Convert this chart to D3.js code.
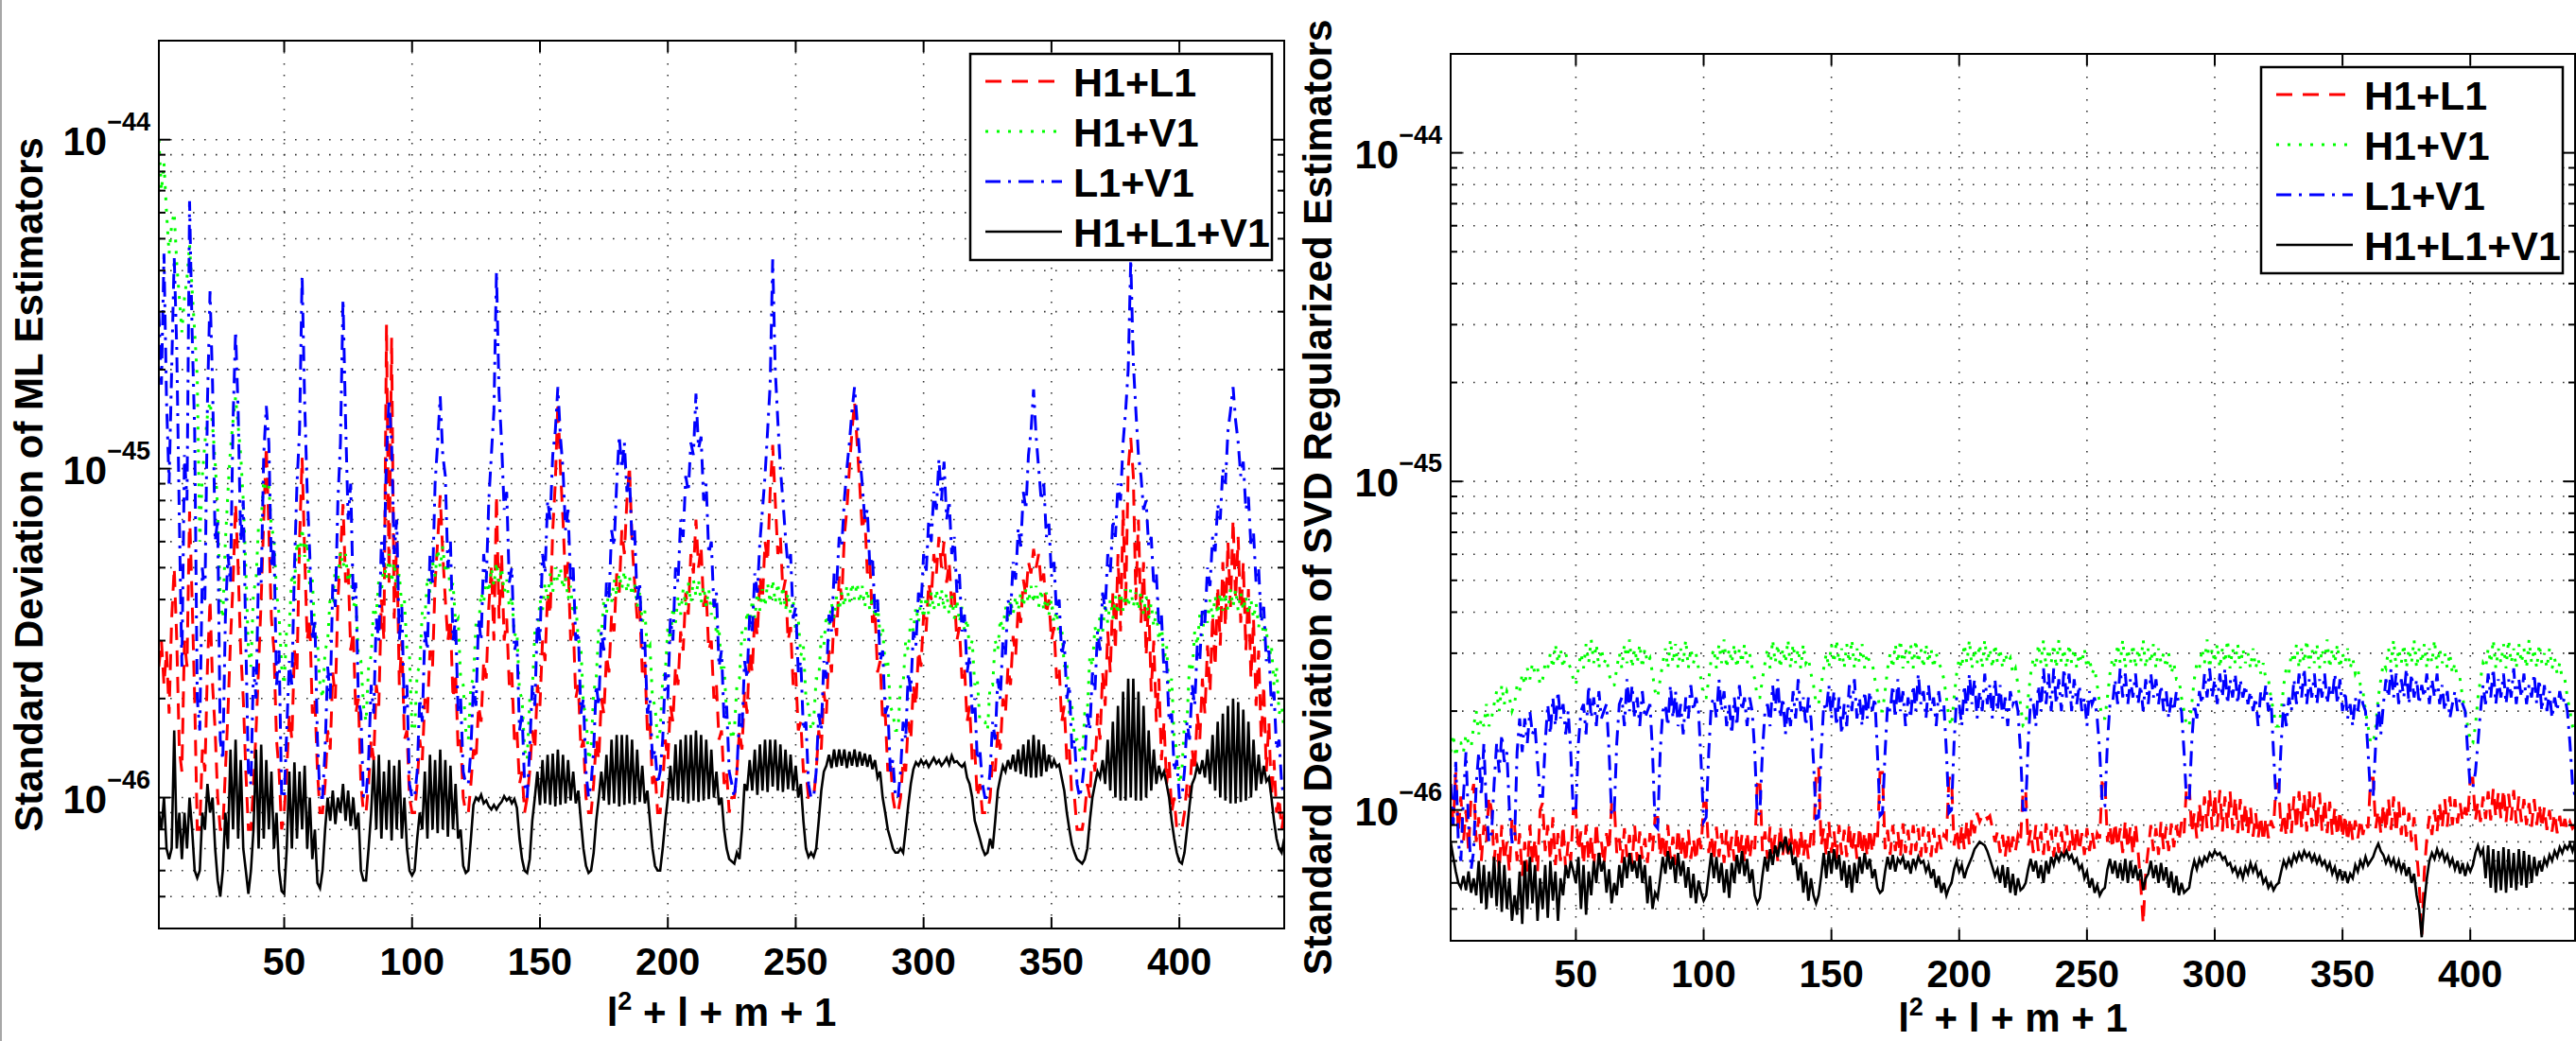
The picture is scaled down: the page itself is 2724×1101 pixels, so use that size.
<!DOCTYPE html>
<html><head><meta charset="utf-8">
<script src="https://cdn.jsdelivr.net/npm/d3@7"></script>
<style>
body{margin:0;background:#fff;}
svg{display:block;}
text{font-family:"Liberation Sans",Arial,Helvetica,sans-serif;font-weight:bold;fill:#000;}
</style>
</head><body>
<svg id="chart" width="2724" height="1101"></svg>
<script>
// ---------------- DATA (values in units of 1e-47) ----------------
const UNIT = 1e-47;
const indexCount = 441;                 // x = l^2 + l + m + 1, l = 0..20
const xTickValues = [50, 100, 150, 200, 250, 300, 350, 400];
const yMajorExponents = [-46, -45, -44];
const seriesNames = ["H1+L1", "H1+V1", "L1+V1", "H1+L1+V1"];
const seriesColors = ["#ff0000", "#00ff00", "#0000ff", "#000000"];
const panelYLabels = ["Standard Deviation of ML Estimators", "Standard Deviation of SVD Regularized Estimators"];

// ---- ML estimators ----
const mlH1L1 = [
25,
30,22,28,
18,35,50,30,14,
12,30,25,74,40,20,8,
8,14,12,25,40,22,16,10,8,
8,12,18,30,45,78,50,28,20,12,8,
8,11,16,25,40,70,117,65,35,28,15,12,8,
9,12,18,15,28,24,60,108,55,30,35,18,20,12,9,
9,11,16,14,24,20,40,55,78,45,50,28,32,18,20,11,9,
9,11,15,13,22,19,40,30,274,45,250,35,60,22,30,15,16,10,9,
9,11,15,13,20,18,28,25,45,60,83,55,40,30,35,20,24,14,15,10,9,
9,11,14,13,19,17,26,23,38,50,30,83,35,55,30,35,22,24,15,16,11,12,9,
10,12,16,14,22,19,30,26,42,36,65,90,160,100,70,45,52,30,34,20,22,14,15,10,9,
9,11,15,13,20,18,27,24,36,32,48,42,65,55,80,102,60,45,35,38,24,26,16,17,11,12,9,
9,11,15,13,19,17,25,22,32,28,42,36,55,48,70,50,58,38,42,28,30,20,22,15,16,11,12,9,10,
10,12,16,14,21,18,28,24,36,31,47,40,60,52,85,118,80,55,62,42,46,30,33,22,24,16,17,12,12,10,10,
10,12,16,14,21,18,28,24,36,31,47,40,62,75,100,130,160,120,90,65,72,48,52,34,37,24,26,17,18,12,13,10,9,
9,10,13,12,17,15,22,19,28,25,36,32,45,40,55,48,62,50,60,45,52,38,42,30,33,23,25,17,19,13,14,10,11,9,9,
9,10,13,12,16,14,20,18,25,22,31,27,38,34,46,41,52,48,57,50,55,44,48,36,40,30,33,23,25,17,19,13,14,10,10,8,8,
8,9,11,10,14,12,18,15,24,19,32,24,42,28,55,32,75,38,100,124,95,40,70,34,52,27,40,21,30,17,23,13,17,11,13,9,10,8,8,
8,9,11,10,14,12,18,15,23,18,29,21,36,25,44,29,52,33,60,38,70,40,62,34,52,28,43,23,35,19,28,15,22,12,17,10,13,9,10,8,9
];
const mlH1V1 = [
1000,
700,850,600,
450,550,600,420,330,
260,330,380,480,350,260,190,
60,95,120,145,160,135,105,75,40,
35,60,85,115,140,165,135,110,80,50,28,
25,42,46,68,70,92,85,88,66,62,42,36,25,
22,33,33,48,44,60,54,66,54,60,44,46,32,30,22,
20,28,30,41,40,50,46,56,50,55,45,49,38,40,27,26,19,
17,25,27,38,36,46,42,52,46,55,45,52,43,48,38,40,28,27,16,
16,24,25,37,35,47,42,52,47,57,50,58,48,52,42,45,34,35,23,22,16,
15,22,23,34,33,42,39,47,42,50,44,52,45,50,42,46,38,41,31,32,21,20,14,
13,20,21,32,31,40,37,45,40,48,42,50,45,50,43,47,40,44,36,39,30,29,19,18,13,
14,21,23,33,31,40,36,44,39,46,41,48,43,49,42,47,41,45,38,42,34,37,28,29,20,19,15,
16,23,24,33,30,38,34,41,36,43,38,45,39,46,41,46,39,44,38,43,36,40,31,33,24,25,18,17,15,
16,22,23,32,30,37,33,40,35,42,37,43,38,45,39,46,39,45,38,44,37,42,36,40,32,35,27,29,20,19,16,
17,23,23,31,29,36,33,39,35,41,37,42,38,44,39,45,40,45,39,44,38,43,37,41,35,39,31,33,25,26,19,18,16,
16,22,22,30,28,35,32,38,34,40,35,41,36,42,37,43,38,43,37,42,36,41,35,40,34,38,32,35,28,30,22,23,17,17,17,
16,22,22,30,28,35,32,38,34,40,36,41,37,42,38,43,39,44,39,44,38,43,37,42,36,40,34,37,31,33,25,26,18,19,15,15,14,
13,18,18,27,25,33,30,36,32,39,34,40,35,41,36,42,37,43,38,43,38,42,37,42,36,41,35,39,33,37,30,34,26,29,21,23,15,14,11,
12,17,17,26,24,32,29,36,31,38,34,40,35,41,36,42,37,42,37,43,38,43,37,42,37,41,36,40,35,39,33,37,30,33,26,29,22,25,18,19,16
];
const mlL1V1 = [
300,
180,450,160,
90,200,440,230,70,
25,110,80,650,260,130,20,
16,50,40,160,346,180,60,70,15,
13,35,55,45,140,262,150,60,80,30,12,
11,25,20,50,45,110,155,120,50,60,22,28,10,
10,16,26,22,50,90,130,388,160,85,55,30,35,15,10,
10,14,25,20,45,38,80,120,327,140,70,90,40,45,20,18,10,
10,13,22,18,35,30,60,50,110,163,120,55,70,30,38,18,22,11,10,
10,12,20,17,32,28,55,45,90,120,166,110,95,50,60,30,35,18,20,12,11,
11,14,22,19,35,30,55,45,80,110,150,398,170,120,75,85,45,50,28,30,16,18,11,
10,14,22,19,35,30,55,48,80,70,110,130,177,125,100,65,75,45,50,30,32,18,20,12,10,
11,14,22,19,32,28,45,40,65,58,90,126,100,120,85,95,60,65,40,45,28,30,18,20,13,14,11,
12,15,24,20,35,30,50,45,70,62,95,85,120,110,169,115,125,80,90,55,60,38,42,25,28,17,19,12,11,
10,12,18,16,26,23,36,32,48,42,60,75,95,130,180,433,200,140,100,80,62,50,55,35,38,24,26,16,17,11,10,
10,12,18,16,26,23,36,32,48,44,62,58,80,100,120,150,177,140,110,90,70,75,50,54,36,40,26,28,18,19,12,13,10,
10,12,17,15,24,21,32,29,42,38,55,48,70,60,85,75,107,80,105,70,80,55,62,42,48,32,36,24,27,18,20,13,14,11,10,
10,12,17,15,23,20,30,27,40,36,52,46,66,58,85,75,110,130,174,125,100,80,90,62,68,47,52,36,40,27,30,20,22,14,15,11,10,
11,13,18,16,24,21,32,28,42,37,55,48,70,62,90,80,120,150,200,433,210,150,110,95,75,80,58,62,44,48,33,36,24,26,17,18,12,13,10,
10,12,17,15,22,19,29,26,38,34,50,44,62,56,78,70,100,90,130,150,177,140,120,95,105,75,82,58,64,45,50,34,38,26,28,19,21,14,15,11,10
];
const mlH1L1V1 = [
9,
8,10,7,
6.5,7,16,7,9,
6.5,9,7,10,8,6,5.7,
6,9,8,11,9,10,7,5.6,5,
6,9,7,14,8,15,7.5,13,7,6,5.1,
6,8,14,7,14.5,7.5,13,8,12,7,9,6,5.2,
5.1,7,12,7,12.8,7.5,12,8,12.5,7,10,6.5,8,5.5,5.3,
6,8,10,8.5,10.5,8.3,10,9,11,8.5,10.5,8.2,10,8,9,6,5.6,
5.6,7,9,13,8,13.5,7.5,12,8,13,7.4,12.5,8,13,7.5,10,7,6,5.8,
6,7.5,9,8,12,7.5,13.5,8,13,7.8,14,8,13,7.6,12.5,8,11,7.5,8,6.2,5.9,
6,7.5,9.5,10,9.8,10.2,9.6,9.8,9.4,9.2,9.5,9.2,9.5,9.7,10.1,9.8,10,9.6,9.9,9.3,7.5,6.5,6,
5.9,6.5,8.5,10,12,9.5,13,9.6,13.5,9.5,13.6,9.4,14,9.5,13.5,9.6,13,9.8,12,9.6,10.5,8.5,7,6.2,5.9,
6,6.8,8.5,10,12,9.8,13.5,9.5,15,9.6,15.5,9.4,15.5,9.5,15.5,9.6,15,9.5,14,9.7,12.5,9.6,10.5,8.5,7,6.2,6,
6,7,8.5,10,12.5,9.8,14.5,9.8,15,9.7,15.5,9.6,15.5,9.8,16,9.7,15.5,9.8,15,9.9,14,10,12,9.5,10,8,7,6.5,6.4,
6.3,6.8,6.5,8,11,10.5,13,10.5,14,10.2,14.5,10.5,15,10.4,15,10.8,15,10.5,14.5,10.4,14,10.6,13.5,10.5,12.5,10,11,8.5,7,6.6,6.8,
6.6,7,8.5,10.5,12,12.5,13.5,12.3,14,12.4,14,12.5,14,12.3,13.8,12.5,14,12.4,13.8,12.5,13.6,12.4,13.5,12.2,13,11.5,12,10,9,8,7.5,7,6.8,
6.8,7,6.8,8,9.5,11,12.2,12.8,12.5,13,12.6,12.9,12.4,12.8,13.2,12.7,13,12.5,12.8,13.2,12.6,13.4,12.8,12.9,12.6,12.4,12.7,11.5,11,10,8.5,8,7.5,7,6.7,
6.8,7.5,7,8.5,10.5,11.5,12.5,12,13,12.2,13.5,12,14,11.8,14.5,11.6,15,11.5,15.5,11.5,15,11.6,14.5,12,13.5,12.3,13,12.4,12.6,11.5,10.5,9,8,7.2,6.8,6.5,6.4,
6.3,6.5,7,8.5,10,11,12,11.5,13,11,15,10.5,17,10,19,9.8,21,9.8,23,10,23,9.8,21,9.8,19,10,16,10.5,14,11,12.5,11.5,12,11,10,8.5,7.5,6.8,6.4,
6.3,6.8,8,9.5,11,11.5,12.5,11.8,13,11.5,14,11,15.5,10.5,17,10,18,9.8,19,9.6,20,9.6,19.5,9.7,18.5,9.8,17,10,15,10.5,13.5,11,12.5,11.2,11.5,10,8.5,7.5,7,6.8,7.5
];

// ---- SVD regularized estimators ----
const svdH1L1 = [
12,
9,13,8.5,
11,8,10,7.5,11,
12,8,9.5,7,9,8,11,
10,7,8.5,6.5,9,7,8,6.5,9.5,
9,7,8.5,6.3,8,6.5,9,6.8,8.2,6.5,10,
10.5,7.5,9,7,9.5,6.8,8.5,7,9,6.6,8,7,10,
10,7.5,8.6,6.8,9,7,8.4,6.6,9.2,7,8,6.8,8.5,7.5,10.5,
10.5,7.4,8.2,6.9,8.8,7.2,8.4,6.8,9,7,8.6,7.1,8.2,6.9,8.5,7.5,9.5,
9.5,7.2,8.5,7,9,7.1,8.3,6.8,8.8,7.2,8.4,6.9,8.7,7.1,8.2,7,8.5,7.6,10.5,
10.5,7.4,8.4,7,8.9,7.2,8.5,6.9,8.7,7.1,8.3,7,8.8,7.2,8.4,6.9,8.6,7.1,8.2,7.6,12,
12.5,7.5,8.6,7.1,8.9,7.2,8.4,7,9,7.3,8.5,7.1,8.8,7.3,8.4,7,8.7,7.2,8.3,7.1,8.5,7.8,13,
13.5,7.8,8.8,7.2,9.2,7.4,8.6,7.1,9,7.3,8.7,7.2,9.1,7.4,8.5,7.1,8.9,7.3,8.6,7.2,8.8,7.4,8.5,8,13,
13,7.6,8.7,7.3,9,7.5,8.6,7.2,9.1,7.4,8.7,7.3,9,7.5,8.8,7.2,8.9,7.4,8.6,7.2,8.8,7.4,8.5,7.6,8.4,8.2,12.5,
12.5,7.8,8.8,7.5,9,7.6,9.3,7.8,9.5,8.5,9.8,9.2,9.6,9.8,9.4,9.6,8.8,8,8.6,7.4,8.4,7.2,8.5,7.3,8.3,7.5,8.4,8,11.5,
11.5,7.8,8.7,7.4,9,7.5,8.6,7.3,9.1,7.5,8.7,7.2,8.9,7.4,8.6,7.3,9,7.5,8.7,7.4,8.9,7.5,8.5,7.3,8.8,7.5,8.6,7.6,8.5,8.2,12.5,
12.5,8,9,7.6,9.2,7.7,8.8,7.4,9.3,7.6,8.9,7.3,9.1,7.5,6,4.5,6.5,7.6,9,7.5,8.8,7.3,9.2,7.6,8.9,7.5,9.1,7.7,9,8,9.2,8.5,12,
12,8.5,9.8,8.2,10.5,8.6,11,8.8,11.5,8.7,11.2,8.9,11.5,8.6,11,8.8,11.4,8.7,11,8.5,10.8,8.6,10.5,8.4,10.2,8.3,9.8,8.2,9.6,8,9.5,8.2,9.3,8.8,12,
12,8.6,9.8,8.3,10.5,8.5,11,8.7,11.4,8.8,11.2,8.6,11.5,8.9,11,8.7,11.3,8.6,10.8,8.5,10.6,8.4,10.2,8.3,10,8.2,9.7,8,9.5,8.1,9.3,8.2,9.4,8.4,9.2,8.8,12.5,
12.5,8.8,10,8.5,10.4,8.6,10.8,8.7,11,8.5,10.6,8.4,10.2,8.3,9.8,8,9.5,7.5,6,4.1,6.5,8.2,9.6,8.4,10,8.6,10.4,8.8,10.8,8.9,11,9,10.8,9.1,10.5,9.2,10.2,9.4,12.5,
12.5,9.3,10.6,9.2,11,9.4,11.4,9.3,11.6,9.5,11.3,9.4,11.6,9.2,11.2,9.3,11.5,9.1,11,9.2,10.8,9,10.5,8.9,10.8,9,10.4,8.8,10.2,8.7,10,8.6,9.8,8.5,9.6,8.6,9.4,8.7,9.2,8.8,9
];
const svdH1V1 = [
15,
17,14.5,16,
16,15,17,16,15.5,
18,20,17,19,18,21,18,
19,21,23,20,24,21,23,22,20,
21,24,23,26,24,27,25,28,26,27,24,
25,28,27,30,27,32,28,31,27,30,28,27,25,
24,27,30,27,32,28,33,28,32,27,31,28,29,26,24,
24,27,30,27,32,28,33,27,31,28,32,27,31,28,29,26,23,
22,25,28,31,27,33,28,32,27,31,28,33,27,31,28,30,27,25,22,
22,25,29,31,27,32,28,33,27,31,28,32,27,31,28,32,28,30,27,25,22,
22,25,28,31,27,33,28,32,27,31,28,33,27,32,28,31,27,32,28,29,26,24,21,
21,24,27,30,27,32,28,33,28,31,27,32,28,33,27,31,28,32,27,30,28,28,25,23,20,
20,23,27,30,27,32,28,33,27,31,28,32,27,33,28,31,27,32,28,31,27,30,28,27,25,22,19,
18,22,26,29,27,32,28,33,27,31,28,32,27,33,28,31,27,32,28,31,27,30,28,29,26,27,24,21,18,
18,22,26,29,27,32,28,33,27,31,28,32,27,33,28,31,27,32,28,31,27,30,28,31,27,29,26,27,24,21,19,
19,22,26,29,27,32,28,33,27,31,28,32,27,31,28,33,27,31,28,32,27,31,28,30,27,30,26,28,25,25,22,20,18,
18,21,25,28,27,31,28,33,27,31,28,32,27,31,28,33,27,31,28,32,27,31,28,30,27,31,27,29,26,28,25,25,22,20,18,
18,20,24,27,26,30,28,32,27,31,28,33,27,31,28,32,27,31,28,33,27,31,28,32,27,30,28,31,27,29,26,27,24,23,20,18,16,
16,18,22,25,28,27,31,28,33,27,31,28,32,27,31,28,33,27,31,28,32,27,31,28,33,27,31,28,30,27,30,26,28,25,25,22,20,18,16,
16,18,22,25,28,27,31,28,33,27,31,28,32,27,33,28,31,27,32,28,31,27,33,28,31,27,32,28,30,27,31,27,29,26,28,25,25,22,20,18,17
];
const svdL1V1 = [
12,
9,14,8,
7,11,15,9,6.6,
7.5,12,15,11,16,10,8,
8.5,12,16,13,17,14,15,10,8,
8,15,19,15,19,16,20,17,18,14,11,
11,16,21,17,22,18,23,19,21,17,20,15,9.8,
10,16,20,21,17,24,19,22,18,23,19,20,21,15,9.6,
9.8,16,21,22,18,25,20,24,19,22,18,23,19,20,21,15,9,
8.8,15,20,21,18,24,19,23,18,21,17,22,19,24,20,22,20,14,9.2,
9.5,15,21,22,19,25,20,23,18,21,17,22,18,24,20,22,18,22,20,15,9.6,
9.8,15,20,21,18,24,20,25,19,22,17,21,18,23,19,25,20,22,18,22,19,14,9.4,
9.5,15,21,20,24,19,23,18,22,17,21,18,24,20,25,19,22,18,23,19,23,20,22,15,9.6,
9.8,15,21,20,24,19,25,20,23,18,22,19,24,20,26,21,23,19,24,20,22,18,23,20,21,15,9.8,
10,16,22,21,18,24,20,26,21,25,19,23,20,26,21,24,19,25,20,24,19,22,18,23,21,22,20,15,10,
10,16,22,21,18,24,20,27,21,26,20,27,21,25,20,27,22,26,20,25,21,24,20,22,18,23,21,22,19,15,10.3,
10.3,16,21,21,25,21,27,22,26,21,25,22,26,21,24,20,25,21,26,22,25,21,24,20,23,19,22,20,23,21,20,15,10.6,
10.6,16,21,19,23,21,26,22,27,22,25,21,26,22,27,21,25,22,26,21,25,22,24,21,23,20,22,18,23,21,24,20,22,15,10.8,
10.8,16,21,18,22,20,25,21,26,22,27,21,25,22,26,21,25,22,26,21,24,22,26,21,25,20,23,19,21,18,22,20,23,21,20,15,11,
11,16,21,17,21,25,22,27,22,26,21,25,22,27,21,26,22,25,21,24,22,26,21,25,22,26,21,24,20,23,19,21,23,20,22,21,20,15,11.7,
11.7,13,16,20,24,21,26,22,27,21,25,22,26,21,25,22,27,21,25,22,26,21,24,22,26,21,25,20,24,20,23,19,22,20,23,21,22,20,16,12,11
];
const svdH1L1V1 = [
8,
7.2,6.5,6,
5.8,6.3,5.7,6.5,5.6,
6.2,5.5,7,5.2,6.8,5,6.5,
5.4,7.2,5.1,7,4.9,6.8,5,6.2,4.6,
5.5,4.8,6.5,4.5,7,5,7.2,5.2,6.8,4.6,6.2,
5,6.8,4.7,7,5.3,6.5,4.6,6.2,5.5,6.8,6.2,7,6.5,
6,7.2,5,6.8,4.8,6.5,5.5,7,6,7.4,6.5,7,5.6,6.6,5.2,
6,5.5,6.8,5.8,7.2,6.2,7.4,6.5,7,6.2,7.3,6,6.8,5.2,6.3,5,5.6,
5.4,6.2,7.2,6.4,7.5,6.6,7.2,6,7.4,6.3,7,5.8,6.7,5.4,6.4,5.2,6.1,5.6,5.3,
5.5,6.4,7.4,6.2,7.2,6,6.9,5.6,6.6,5.4,6.9,6,7.3,6.4,7.5,6.3,7.1,6,6.6,5.5,5.2,
5.4,6.3,7.2,6.5,7.6,6.8,7.8,7.2,8,7.6,8.3,7.5,7.8,6.8,7.2,6.1,6.9,5.6,6.5,5.3,6.2,5.5,5.2,
5.5,6.3,7.4,6.2,7.5,6.4,7.6,6.6,7.3,6.1,7,5.8,6.8,5.6,6.9,6,7.2,6.4,7.4,6.6,7.1,6.2,6.6,5.8,5.6,
5.7,6.5,7.2,6.6,7.3,6.5,7.1,6.9,7.2,6.6,7,6.4,7.1,6.7,7.2,6.9,7,6.5,6.8,6.2,6.6,5.8,6.3,5.6,6,5.5,5.8,
6,6.6,7,6.5,6.8,6.2,6.6,6.9,7.2,7.6,7.8,8,7.9,7.8,7.5,7.1,6.7,6.3,6.6,6,6.8,5.8,6.7,5.6,6.4,5.5,6.2,5.7,5.8,
6,6.6,7.1,6.5,7,6.2,6.8,6,7,6.4,7.2,6.8,7.3,7,7.4,7.2,7.5,7.1,7.3,6.9,7.1,6.6,6.8,6.2,6.5,5.8,6.2,5.6,5.9,5.5,5.7,
5.8,6.6,7.1,6.4,7,6.2,6.9,6.1,7.1,6,7,6.2,6.8,6.1,6.6,5.7,6.2,6.4,7,6.2,6.8,6,6.9,6.1,6.7,5.8,6.5,5.6,6.3,5.5,6,5.6,5.7,
5.8,6.5,7,6.6,7.1,6.8,7.2,7,7.4,7.2,7.5,7.3,7.4,7.1,7.2,6.8,6.9,6.5,6.7,6.3,6.6,6.2,6.7,6.4,6.9,6.5,6.8,6.3,6.5,6,6.2,5.8,6,5.7,5.9,
6,6.5,7,6.7,7.1,6.8,7.3,7,7.4,7.1,7.5,7.2,7.4,7,7.3,6.9,7.2,6.8,7,6.6,6.9,6.4,6.7,6.2,6.6,6.1,6.5,6,6.4,6.2,6.8,6.5,7,6.7,7.2,6.8,7,
7.2,7.6,7.9,7.5,7.3,6.9,7.2,6.8,7.1,6.6,7,6.5,6.9,6.3,6.7,6,6.4,5.5,5,4.1,5.2,6.2,7,7.4,7.1,7.6,7.2,7.5,7,7.3,6.8,7.1,6.6,7,6.4,6.9,6.3,6.8,6.5,
6.8,7.4,7.8,7.3,7.6,6.2,7.8,5.8,7.6,5.6,7.5,5.7,7.7,5.6,7.6,5.8,7.4,5.7,7.6,5.9,7.5,5.8,7.3,6,7.2,6.3,7,6.5,7.1,6.8,7.3,7,7.5,7.2,7.7,7.4,7.8,7.6,7.9,7.5,8
];

// ---------------- LAYOUT ----------------
const svg = d3.select("#chart");
const W = 2724, H = 1101;
svg.append("rect").attr("width", W).attr("height", H).attr("fill", "#fff");
svg.append("line").attr("x1", 1).attr("x2", 1).attr("y1", 0).attr("y2", H)
   .attr("stroke", "#8a8a8a").attr("stroke-width", 1.5);

const panels = [
  {left:168, right:1358, top:43, bottom:982, ylabelX:45, xlabelY:1085, series:[mlH1L1, mlH1V1, mlL1V1, mlH1L1V1], ylabel:panelYLabels[0]},
  {left:1534, right:2723, top:57, bottom:995, ylabelX:1408, xlabelY:1091, series:[svdH1L1, svdH1V1, svdL1V1, svdH1L1V1], ylabel:panelYLabels[1]}
];
const styles = [
  {dash:"17,11", w:3},
  {dash:"3,9", w:3},
  {dash:"16,8,3,8", w:3},
  {dash:null, w:2.6}
];
const idx = d3.range(1, indexCount + 1);
const yDomain = [4e-47, 2e-44];

panels.forEach((p, pi) => {
  const x = d3.scaleLinear().domain([1, indexCount]).range([p.left, p.right]);
  const y = d3.scaleLog().domain(yDomain).range([p.bottom, p.top]);
  const g = svg.append("g");
  const clipId = "clip" + pi;
  svg.append("clipPath").attr("id", clipId).append("rect")
     .attr("x", p.left).attr("y", p.top).attr("width", p.right - p.left).attr("height", p.bottom - p.top);

  // grid values (major + minor)
  const gridVals = [];
  for (let e = -47; e <= -44; e++) for (let k = 1; k <= 9; k++) {
    const v = k * Math.pow(10, e);
    if (v > yDomain[0] * 1.0001 && v < yDomain[1] * 0.9999) gridVals.push({v, major: k === 1});
  }
  const grid = g.append("g").attr("stroke", "#333").attr("stroke-width", 1.6).attr("stroke-dasharray", "1.6,10.4");
  gridVals.forEach(d => grid.append("line").attr("x1", p.left).attr("x2", p.right).attr("y1", y(d.v)).attr("y2", y(d.v)));
  xTickValues.forEach(t => grid.append("line").attr("x1", x(t)).attr("x2", x(t)).attr("y1", p.top).attr("y2", p.bottom));

  // series
  const lineGen = d3.line().x((d, i) => x(idx[i])).y(d => y(d * UNIT));
  const sg = g.append("g").attr("clip-path", `url(#${clipId})`);
  p.series.forEach((data, si) => {
    const path = sg.append("path").datum(data).attr("d", lineGen)
      .attr("fill", "none").attr("stroke", seriesColors[si]).attr("stroke-width", styles[si].w)
      .attr("stroke-linejoin", "miter").attr("stroke-linecap", "butt");
    if (styles[si].dash) path.attr("stroke-dasharray", styles[si].dash);
  });

  // axes box
  g.append("rect").attr("x", p.left).attr("y", p.top).attr("width", p.right - p.left).attr("height", p.bottom - p.top)
    .attr("fill", "none").attr("stroke", "#000").attr("stroke-width", 2);
  const ticks = g.append("g").attr("stroke", "#000").attr("stroke-width", 2);
  xTickValues.forEach(t => {
    ticks.append("line").attr("x1", x(t)).attr("x2", x(t)).attr("y1", p.bottom).attr("y2", p.bottom - 12);
    ticks.append("line").attr("x1", x(t)).attr("x2", x(t)).attr("y1", p.top).attr("y2", p.top + 12);
  });
  gridVals.forEach(d => {
    const len = d.major ? 12 : 7;
    ticks.append("line").attr("x1", p.left).attr("x2", p.left + len).attr("y1", y(d.v)).attr("y2", y(d.v));
    ticks.append("line").attr("x1", p.right).attr("x2", p.right - len).attr("y1", y(d.v)).attr("y2", y(d.v));
  });

  // x tick labels
  xTickValues.forEach(t => {
    g.append("text").attr("x", x(t)).attr("y", p.bottom + 49).attr("text-anchor", "middle")
      .attr("font-size", 41).text(t);
  });
  // y tick labels
  yMajorExponents.forEach(e => {
    const yy = y(Math.pow(10, e));
    const t = g.append("text").attr("x", p.left - 9).attr("y", yy + 16).attr("text-anchor", "end").attr("font-size", 42);
    t.append("tspan").text("10");
    t.append("tspan").attr("dy", -26).attr("font-size", 27).text("\u2212" + Math.abs(e));
  });

  // x label
  const xl = g.append("text").attr("x", (p.left + p.right) / 2).attr("y", p.xlabelY)
    .attr("text-anchor", "middle").attr("font-size", 42);
  xl.append("tspan").text("l");
  xl.append("tspan").attr("dy", -17).attr("font-size", 27).text("2");
  xl.append("tspan").attr("dy", 17).text(" + l + m + 1");

  // y label
  g.append("text").attr("transform", `translate(${p.ylabelX},${(p.top + p.bottom) / 2}) rotate(-90)`)
    .attr("text-anchor", "middle").attr("font-size", 42).text(p.ylabel);

  // legend
  const lw = 319, lh = 218;
  const lx = p.right - 13 - lw, ly = p.top + 14;
  const lg = g.append("g");
  lg.append("rect").attr("x", lx).attr("y", ly).attr("width", lw).attr("height", lh)
    .attr("fill", "#fff").attr("stroke", "#000").attr("stroke-width", 2.5);
  const rowY = [29, 82, 135, 188];
  seriesNames.forEach((name, si) => {
    const cy = ly + rowY[si];
    const ln = lg.append("line").attr("x1", lx + 16).attr("x2", lx + 97).attr("y1", cy).attr("y2", cy)
      .attr("stroke", seriesColors[si]).attr("stroke-width", styles[si].w);
    if (styles[si].dash) ln.attr("stroke-dasharray", styles[si].dash);
    lg.append("text").attr("x", lx + 109).attr("y", cy + 16).attr("font-size", 43).text(name);
  });
});

const allSeries = {mlH1L1, mlH1V1, mlL1V1, mlH1L1V1, svdH1L1, svdH1V1, svdL1V1, svdH1L1V1};
const bad = Object.entries(allSeries).filter(([k, v]) => v.length !== indexCount).map(([k, v]) => k + ":" + v.length);
if (bad.length) throw new Error("Length mismatch " + bad.join(","));
</script>
</body></html>
